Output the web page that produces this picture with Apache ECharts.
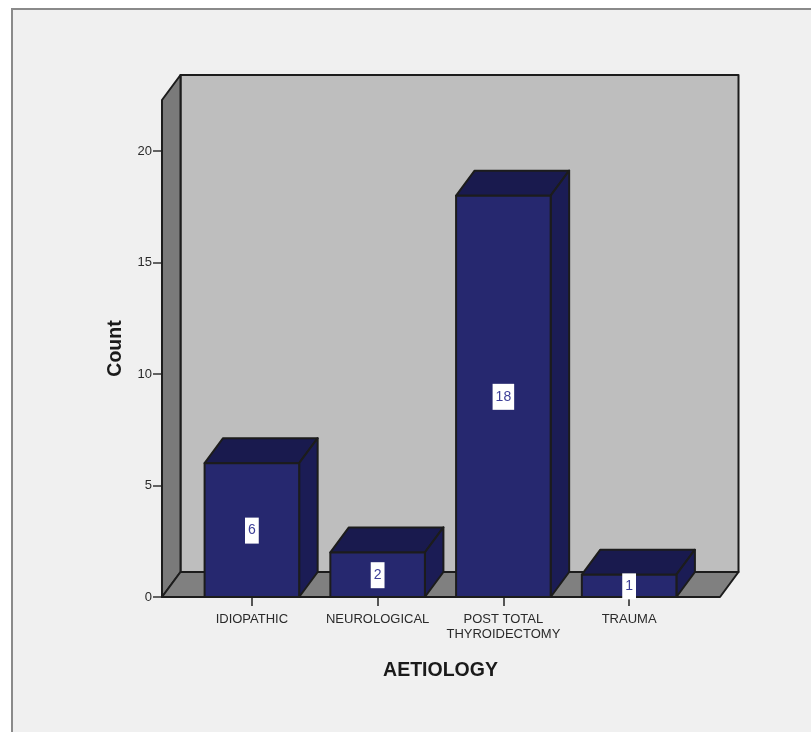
<!DOCTYPE html>
<html>
<head>
<meta charset="utf-8">
<style>html,body{margin:0;padding:0;background:#fff}#chart{width:811px;height:732px}</style>
<script src="https://cdn.jsdelivr.net/npm/echarts@6/dist/echarts.min.js"></script>
</head>
<body>
<div id="chart"></div>
<script>
// Patient counts by aetiology
const categories = ['IDIOPATHIC', 'NEUROLOGICAL', 'POST TOTAL\nTHYROIDECTOMY', 'TRAUMA'];
const counts = [6, 2, 18, 1];
const yTicks = [0, 5, 10, 15, 20];

// Box projection: how far the back plane shifts from the front plane
const DEPTH_X = 18.5, DEPTH_Y = -25;
const FONT = '"Liberation Sans", Arial, sans-serif';
const EDGE = { stroke: '#1c1c1c', lineWidth: 2, lineJoin: 'round' };

function poly(points, fill) {
  return { type: 'polygon', shape: { points }, style: Object.assign({ fill }, EDGE) };
}

// Left wall, back wall and floor of the box
function renderWalls(params) {
  const c = params.coordSys;
  const l = c.x - 27, r = c.x + c.width + 28, t = c.y, b = c.y + c.height;
  return {
    type: 'group',
    children: [
      poly([[l + DEPTH_X, t + DEPTH_Y], [r + DEPTH_X, t + DEPTH_Y], [r + DEPTH_X, b + DEPTH_Y], [l + DEPTH_X, b + DEPTH_Y]], '#bebebe'),
      poly([[l, t], [l + DEPTH_X, t + DEPTH_Y], [l + DEPTH_X, b + DEPTH_Y], [l, b]], '#7a7a7a'),
      poly([[l, b], [l + DEPTH_X, b + DEPTH_Y], [r + DEPTH_X, b + DEPTH_Y], [r, b]], '#808080')
    ]
  };
}

// One extruded bar with its value tag at mid height
function renderBar(params, api) {
  const base = api.coord([api.value(0), 0]);
  const top = api.coord([api.value(0), api.value(1)]);
  const half = api.size([1, 0])[0] * 0.376;
  const x0 = base[0] - half, x1 = base[0] + half, y0 = base[1], y1 = top[1];
  return {
    type: 'group',
    children: [
      poly([[x0, y1], [x0 + DEPTH_X, y1 + DEPTH_Y], [x1 + DEPTH_X, y1 + DEPTH_Y], [x1, y1]], '#191a4e'),
      poly([[x1, y1], [x1 + DEPTH_X, y1 + DEPTH_Y], [x1 + DEPTH_X, y0 + DEPTH_Y], [x1, y0]], '#1b1c55'),
      poly([[x0, y1], [x1, y1], [x1, y0], [x0, y0]], '#26286f'),
      {
        type: 'text',
        style: {
          x: base[0], y: (y0 + y1) / 2 + 0.5,
          text: String(api.value(1)),
          align: 'center', verticalAlign: 'middle',
          font: '14px ' + FONT,
          fill: '#3d3f98',
          backgroundColor: '#ffffff',
          padding: [6, 3, 6, 3]
        }
      }
    ]
  };
}

const chart = echarts.init(document.getElementById('chart'), null, { renderer: 'canvas' });
chart.setOption({
  animation: false,
  backgroundColor: '#ffffff',
  graphic: [{
    type: 'rect', z: -10, silent: true,
    shape: { x: 12, y: 9, width: 900, height: 900 },
    style: { fill: '#f0f0f0', stroke: '#8a8a8a', lineWidth: 2 }
  }],
  grid: { left: 189, top: 100, width: 503, height: 497 },
  xAxis: {
    type: 'category',
    data: categories,
    axisLine: { show: false },
    axisTick: { show: true, alignWithLabel: true, length: 9, lineStyle: { color: '#222', width: 1.5 } },
    axisLabel: { interval: 0, margin: 15, color: '#2a2a2a', fontFamily: FONT, fontSize: 13, lineHeight: 15 },
    name: 'AETIOLOGY',
    nameLocation: 'middle',
    nameGap: 64,
    nameTextStyle: { fontFamily: FONT, fontSize: 19.5, fontWeight: 'bold', color: '#1a1a1a' }
  },
  yAxis: {
    type: 'value',
    min: 0,
    max: 22.29,
    offset: 27,
    splitLine: { show: false },
    axisLine: { show: false },
    axisTick: { show: true, length: 9, customValues: yTicks, lineStyle: { color: '#333', width: 1.5 } },
    axisLabel: { customValues: yTicks, margin: 10, color: '#2a2a2a', fontFamily: FONT, fontSize: 13 },
    name: 'Count',
    nameLocation: 'middle',
    nameGap: 36,
    nameTextStyle: { fontFamily: FONT, fontSize: 19.5, fontWeight: 'bold', color: '#1a1a1a' }
  },
  series: [
    { type: 'custom', name: 'box', z: 1, silent: true, renderItem: renderWalls, data: [[0, 0]] },
    { type: 'custom', name: 'Count', z: 2, renderItem: renderBar, encode: { x: 0, y: 1 }, data: counts.map((v, i) => [i, v]) }
  ]
});
</script>
</body>
</html>
